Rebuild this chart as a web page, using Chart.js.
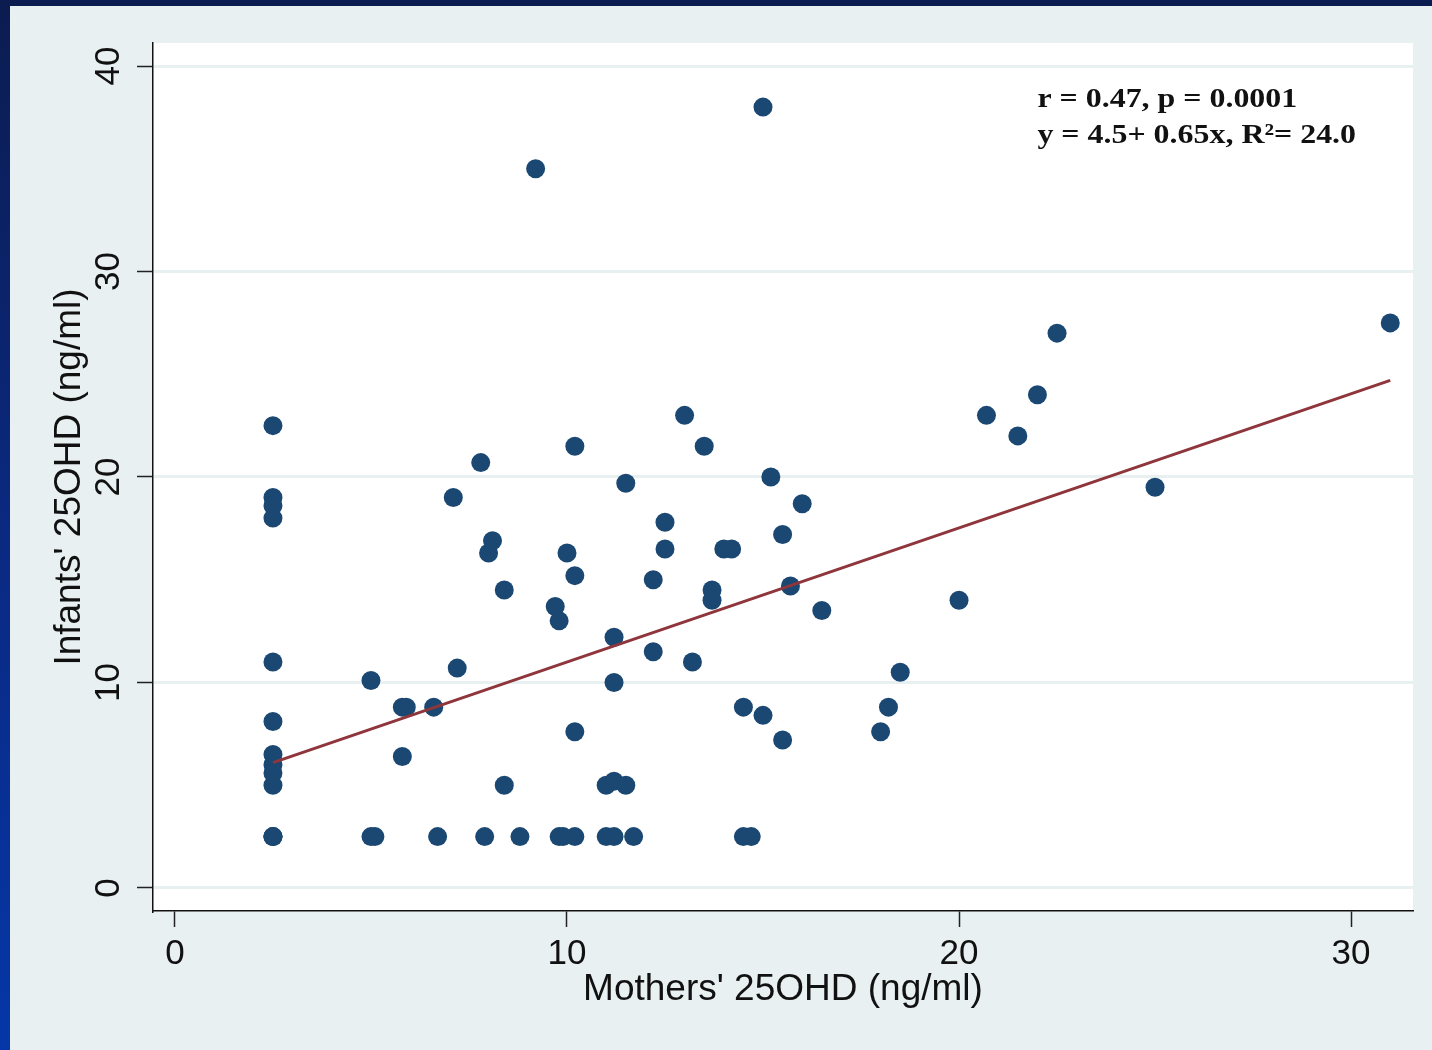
<!DOCTYPE html>
<html>
<head>
<meta charset="utf-8">
<script src="https://cdn.jsdelivr.net/npm/chart.js@4.4.1/dist/chart.umd.min.js"></script>
<style>
    html, body { margin: 0; padding: 0; width: 1432px; height: 1050px; overflow: hidden; }
    body { position: relative; background: linear-gradient(to bottom, #0b1c50 0%, #0a2a84 55%, #0537a8 100%); }
    #frame { position: absolute; left: 10px; top: 6px; width: 1422px; height: 1044px; background: #e8f0f2; }
    canvas { display: block; }
</style>
</head>
<body>
<div id="frame"><canvas id="scatterChart" width="1422" height="1044"></canvas></div>
<script>
// ── Data ──
const motherX = [
    2.5, 2.5, 2.5, 2.5, 2.5, 2.5, 2.5, 2.5, 2.5, 2.5, 2.5, 2.5, 2.5,
    5.0, 5.0, 5.1, 5.8, 5.9, 5.8, 6.6, 6.7, 7.1, 7.2, 7.8, 8.0, 8.1, 7.9, 8.4, 8.4, 8.8,
    9.2, 9.7, 9.8, 9.8, 9.9, 10.0, 10.2, 10.2, 10.2, 10.2,
    11.0, 11.2, 11.5, 11.0, 11.2, 11.7, 11.2, 11.2, 11.5,
    12.2, 12.2, 12.5, 12.5, 13.0, 13.2, 13.5, 13.7, 13.7, 14.0, 14.2,
    14.5, 14.5, 14.7, 15.0, 15.0, 15.2, 15.5, 15.5, 15.7, 16.0, 16.5,
    18.0, 18.2, 18.5, 20.0, 20.7, 21.5, 22.0, 22.5, 25.0, 31.0
];
const infantY = [
    22.5, 19.0, 18.6, 18.0, 11.0, 8.1, 6.5, 6.0, 5.6, 5.0, 2.5, 2.5, 2.5,
    10.1, 2.5, 2.5, 8.8, 8.8, 6.4, 8.8, 2.5, 19.0, 10.7, 20.7, 16.3, 16.9, 2.5, 14.5, 5.0, 2.5,
    35.0, 13.7, 13.0, 2.5, 2.5, 16.3, 15.2, 21.5, 7.6, 2.5,
    5.0, 5.2, 5.0, 2.5, 2.5, 2.5, 12.2, 10.0, 19.7,
    15.0, 11.5, 16.5, 17.8, 23.0, 11.0, 21.5, 14.5, 14.0, 16.5, 16.5,
    8.8, 2.5, 2.5, 38.0, 8.4, 20.0, 17.2, 7.2, 14.7, 18.7, 13.5,
    7.6, 8.8, 10.5, 14.0, 23.0, 22.0, 24.0, 27.0, 19.5, 27.5
];
const fitX = [2.5, 31.0];
const fitY = [6.1, 24.7];
const xTicks = [0, 10, 20, 30];
const yTicks = [0, 10, 20, 30, 40];
const noteLines = ["r = 0.47, p = 0.0001", "y = 4.5+ 0.65x, R\u00B2= 24.0"];

const SANS = "'Liberation Sans', Arial, sans-serif";
const INK = "#111111";

// white plot region behind the marks
const plotBackground = {
    id: "plotBackground",
    beforeDraw(chart) {
        const { ctx, chartArea: a } = chart;
        ctx.save();
        ctx.fillStyle = "#ffffff";
        ctx.fillRect(a.left, a.top, a.right - a.left, a.bottom - a.top);
        ctx.restore();
    }
};

// correlation note in the upper right (the source text is set a bit wide)
const statsNote = {
    id: "statsNote",
    afterDraw(chart) {
        const { ctx, scales: { x, y } } = chart;
        const left = x.getPixelForValue(22.0);
        const baselines = [38.0, 36.25];
        const stretch = 1.14;
        ctx.save();
        ctx.font = "bold 28px 'Liberation Serif', 'Times New Roman', serif";
        ctx.fillStyle = INK;
        ctx.textBaseline = "alphabetic";
        noteLines.forEach((line, i) => {
            ctx.save();
            ctx.translate(left, y.getPixelForValue(baselines[i]));
            ctx.scale(stretch, 1);
            ctx.fillText(line, 0, 0);
            ctx.restore();
        });
        ctx.restore();
    }
};

const points = motherX.map((x, i) => ({ x: x, y: infantY[i] }));
const fitLine = fitX.map((x, i) => ({ x: x, y: fitY[i] }));

new Chart(document.getElementById("scatterChart"), {
    type: "scatter",
    data: {
        datasets: [
            {
                type: "line",
                data: fitLine,
                borderColor: "#8e363c",
                borderWidth: 3,
                pointRadius: 0,
                fill: false,
                order: 0
            },
            {
                data: points,
                backgroundColor: "#1b4872",
                borderColor: "#1b4872",
                borderWidth: 0,
                pointRadius: 9.5,
                order: 1
            }
        ]
    },
    options: {
        responsive: false,
        animation: false,
        events: [],
        layout: { padding: { left: 0, top: 37, right: 19, bottom: 0 } },
        plugins: { legend: { display: false }, tooltip: { enabled: false } },
        scales: {
            x: {
                type: "linear",
                min: -0.56,
                max: 31.58,
                afterBuildTicks: s => { s.ticks = xTicks.map(v => ({ value: v })); },
                afterFit: s => { s.height = 139; },
                grid: { drawOnChartArea: false, drawTicks: true, tickLength: 16, tickColor: "#222", tickWidth: 1.5 },
                border: { display: true, color: INK, width: 1.5 },
                ticks: { color: INK, padding: 6, maxRotation: 0, minRotation: 0, font: { family: SANS, size: 35 } },
                title: {
                    display: true,
                    text: "Mothers' 25OHD (ng/ml)",
                    color: INK,
                    font: { family: SANS, size: 37 },
                    padding: { top: 0, bottom: 38 }
                }
            },
            y: {
                type: "linear",
                min: -1.12,
                max: 41.12,
                afterBuildTicks: s => { s.ticks = yTicks.map(v => ({ value: v })); },
                afterFit: s => { s.width = 143; },
                grid: { color: "#e8f0f2", lineWidth: 3, drawTicks: true, tickLength: 16, tickColor: "#222", tickWidth: 1.5 },
                border: { display: true, color: INK, width: 1.5 },
                ticks: {
                    color: INK,
                    padding: 8,
                    minRotation: 90,
                    maxRotation: 90,
                    crossAlign: "center",
                    font: { family: SANS, size: 35 }
                },
                title: {
                    display: true,
                    text: "Infants' 25OHD (ng/ml)",
                    color: INK,
                    font: { family: SANS, size: 37 },
                    padding: { top: 38, bottom: 0 }
                }
            }
        }
    },
    plugins: [plotBackground, statsNote]
});
</script>
</body>
</html>
